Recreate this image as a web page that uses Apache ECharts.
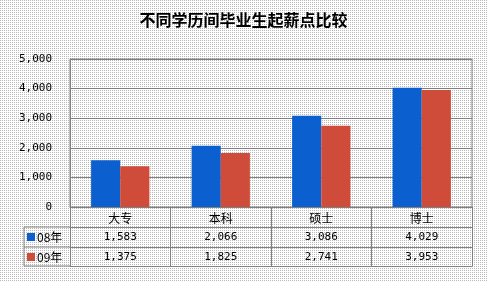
<!DOCTYPE html>
<html>
<head>
<meta charset="utf-8">
<script src="https://cdn.jsdelivr.net/npm/echarts@6/dist/echarts.min.js"></script>
<style>html,body{margin:0;padding:0;background:#fff}#c{width:487px;height:282px}</style>
</head>
<body>
<div id="c"></div>
<script>
var titleText = '不同学历间毕业生起薪点比较';
var categories = ['大专', '本科', '硕士', '博士'];
var seriesNames = ['08年', '09年'];
var data08 = [1583, 2066, 3086, 4029];
var data09 = [1375, 1825, 2741, 3953];
var yTicks = [0, 1000, 2000, 3000, 4000, 5000];

function fmt(v) { return String(v).replace(/\B(?=(\d{3})+(?!\d))/g, ','); }

// dotted background texture
var pc = document.createElement('canvas');
pc.width = 2; pc.height = 2;
var pctx = pc.getContext('2d');
pctx.fillStyle = '#ffffff'; pctx.fillRect(0, 0, 2, 2);
pctx.fillStyle = '#b8b8b8'; pctx.fillRect(0, 0, 1, 1);

var numFont = 'DejaVu Sans Mono';
var cjkFont = 'Noto Sans CJK SC';
var lineCol = '#808080';

var chart = echarts.init(document.getElementById('c'), null, {renderer: 'canvas'});

function tableAxis(offset, labels, showLabel) {
  return {
    type: 'category', data: categories, position: 'bottom', offset: offset,
    axisLine: {show: true, lineStyle: {color: lineCol, width: 1}},
    axisTick: {show: false},
    axisLabel: {show: showLabel, margin: 5, fontFamily: numFont, fontSize: 11, color: '#000',
      formatter: function (v, i) { return labels ? fmt(labels[i]) : v; }},
    splitLine: {show: false}
  };
}

var option = {
  animation: false,
  backgroundColor: {image: pc, repeat: 'repeat'},
  title: {
    text: titleText, left: 'center', top: 7,
    textStyle: {fontSize: 16, fontWeight: 'bold', fontFamily: cjkFont, color: '#000'}
  },
  legend: {
    data: seriesNames, orient: 'vertical', left: 27, top: 231, padding: 0,
    itemWidth: 8, itemHeight: 8, itemGap: 8, icon: 'rect',
    textStyle: {fontSize: 12, lineHeight: 12, fontFamily: cjkFont, color: '#000', padding: [0, 0, 0, -3]}
  },
  grid: {left: 70, right: 15, top: 59, bottom: 75, show: true, borderColor: lineCol, borderWidth: 1, backgroundColor: 'transparent'},
  xAxis: [
    {
      type: 'category', data: categories, position: 'bottom',
      axisLine: {show: true, lineStyle: {color: lineCol}},
      axisTick: {show: true, length: 59, lineStyle: {color: lineCol}},
      axisLabel: {margin: 5, fontFamily: cjkFont, fontSize: 12, color: '#000'}
    },
    tableAxis(20, data08, true),
    tableAxis(40, data09, true),
    tableAxis(59, null, false)
  ],
  yAxis: {
    type: 'value', min: yTicks[0], max: yTicks[yTicks.length - 1], interval: 1000,
    axisLine: {show: true, lineStyle: {color: lineCol}},
    axisTick: {show: false},
    axisLabel: {margin: 18, fontFamily: numFont, fontSize: 11, color: '#000', formatter: function (v) { return fmt(v); }},
    splitLine: {show: true, lineStyle: {color: lineCol, width: 1}}
  },
  graphic: [
    {type: 'polyline', shape: {points: [[70, 227], [24, 227], [24, 266], [70, 266]]}, style: {stroke: lineCol, fill: null, lineWidth: 1}},
    {type: 'line', shape: {x1: 24, y1: 247, x2: 70, y2: 247}, style: {stroke: lineCol, lineWidth: 1}}
  ],
  series: [
    {name: seriesNames[0], type: 'bar', data: data08, barGap: '0%', barCategoryGap: '42%', itemStyle: {color: '#0b5fcf'}},
    {name: seriesNames[1], type: 'bar', data: data09, itemStyle: {color: '#cf4b3a'}}
  ]
};
chart.setOption(option);
</script>
</body>
</html>
